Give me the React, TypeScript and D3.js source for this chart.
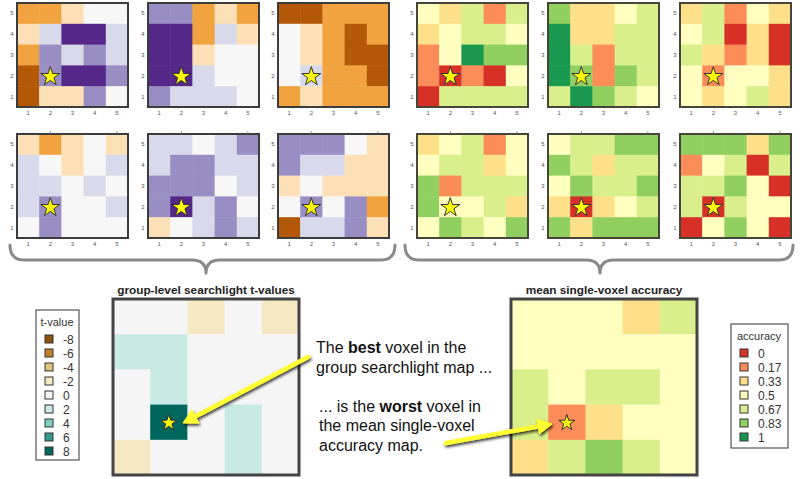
import React from 'react';
import * as d3 from 'd3';

const W = 800, H = 479;
const colsIdx = [1, 2, 3, 4, 5];
const rowsIdx = [5, 4, 3, 2, 1];
const tickLabels = ['1', '2', '3', '4', '5'];
const starCell = { col: 2, row: 2 };

// single-subject searchlight t-maps, rows listed from y=5 (top) down to y=1
const tSubj1 = [[-4, -4, -2, 0, 0], [-2, 2, 6, 6, 2], [-4, 4, 2, 4, 2], [-6, 4, 6, 6, 4], [-6, -2, -2, 4, 0]];
const tSubj2 = [[4, 4, -4, -2, -4], [6, 6, -4, 2, -2], [6, 6, -2, 0, 0], [6, 6, 2, 0, 0], [4, 2, 2, 2, 0]];
const tSubj3 = [[-6, -6, -4, -4, -4], [0, -2, -4, -6, -4], [0, -2, -4, -6, -6], [0, 2, -4, -4, -6], [-4, -2, -4, -4, -4]];
const tSubj4 = [[-2, -4, -2, 0, -2], [2, 0, -2, 0, 2], [2, 2, 0, 2, 0], [2, 4, 0, 0, 2], [0, 4, 0, 0, 0]];
const tSubj5 = [[2, 2, 0, 2, 4], [2, 4, 4, 2, 2], [4, 4, 4, 0, 2], [4, 6, 2, 4, 0], [-2, 0, 2, 4, 2]];
const tSubj6 = [[4, 4, 4, 0, -2], [4, 2, 2, -2, -2], [-2, 0, -2, -2, -2], [0, 4, 0, 4, -4], [-6, 2, 2, 4, -2]];

// single-subject single-voxel accuracy maps
const accSubj1 = [[0.5, 0.33, 0.67, 0.17, 0.67], [0.33, 0.5, 0.67, 0.67, 0.5], [0.17, 0.5, 1, 0.83, 0.83], [0.17, 0, 0.17, 0, 0.5], [0, 0.67, 0.67, 0.67, 0.67]];
const accSubj2 = [[0.83, 0.33, 0.33, 0.5, 0.67], [1, 0.33, 0.33, 0.67, 0.67], [1, 0.67, 0.17, 0.67, 0.67], [1, 0.83, 0.17, 0.83, 0.67], [0.67, 1, 0.83, 0.67, 0.5]];
const accSubj3 = [[0.33, 0.67, 0.17, 0.5, 0.33], [0.5, 0.67, 0, 0.33, 0], [0.67, 0.33, 0.17, 0.33, 0], [0.5, 0.17, 0.5, 0.5, 0.33], [0.5, 0.33, 0.5, 0.67, 0.33]];
const accSubj4 = [[0.33, 0.5, 0.67, 0.17, 0.5], [0.5, 0.67, 0.67, 0.33, 0.5], [0.83, 0.17, 0.67, 0.67, 0.67], [0.83, 0.5, 0.5, 0.67, 0.33], [0.5, 0.83, 0.67, 0.5, 0.83]];
const accSubj5 = [[0.5, 0.67, 0.67, 0.83, 0.83], [0.83, 0.67, 0.33, 0.67, 0.67], [0.5, 0.83, 0.67, 0.67, 0.83], [0.33, 0, 0.33, 0.5, 0.67], [0.83, 0.33, 0.83, 0.83, 0.83]];
const accSubj6 = [[0.83, 0.83, 0.83, 0.33, 0.83], [0.17, 0.5, 0.67, 0, 0.67], [0.67, 0.67, 0.83, 0.5, 0], [0.67, 0, 0.67, 0.5, 0.5], [0, 0.5, 0.83, 0.5, 0]];

// group-level maps
const groupT = [[0, 0, -2, 0, -2], [2, 2, 0, 0, 0], [0, 2, 0, 0, 0], [0, 8, 0, 2, 0], [-2, 0, 0, 2, 0]];
const meanAcc = [[0.5, 0.5, 0.5, 0.33, 0.67], [0.5, 0.5, 0.5, 0.5, 0.5], [0.67, 0.5, 0.67, 0.67, 0.5], [0.67, 0.17, 0.33, 0.5, 0.5], [0.33, 0.67, 0.83, 0.67, 0.5]];

// legends
const tLegendValues = [-8, -6, -4, -2, 0, 2, 4, 6, 8];
const tLegendLabels = ['-8', '-6', '-4', '-2', '0', '2', '4', '6', '8'];
const accLegendValues = [0, 0.17, 0.33, 0.5, 0.67, 0.83, 1];
const accLegendLabels = ['0', '0.17', '0.33', '0.5', '0.67', '0.83', '1'];
const subjTValues = [-6, -4, -2, 0, 2, 4, 6];

const titleLeft = 'group-level searchlight t-values';
const titleRight = 'mean single-voxel accuracy';

const tColor = d3.scaleOrdinal<number, string>().domain(tLegendValues)
  .range(['#8c510a', '#bf812d', '#dfc27d', '#f6e8c3', '#f5f5f5', '#c7eae5', '#80cdc1', '#35978f', '#01665e']);
const subjTColor = d3.scaleOrdinal<number, string>().domain(subjTValues)
  .range(['#b35806', '#f1a340', '#fee0b6', '#f7f7f7', '#d8daeb', '#998ec3', '#542788']);
const accColor = d3.scaleOrdinal<number, string>().domain(accLegendValues)
  .range(['#d73027', '#fc8d59', '#fee08b', '#ffffbf', '#d9ef8b', '#91cf60', '#1a9850']);

const FONT = '"Liberation Sans", Arial, sans-serif';

function starPath(r: number) {
  const ka = 0.8908130915292852;
  return d3.symbol().type(d3.symbolStar).size((r * r) / ka)() as string;
}

type MapProps = {
  x: number; y: number; w: number; h: number;
  grid: number[][]; color: (v: number) => string;
  small?: boolean; starR: number; frame: string; frameW: number; topTicks?: boolean;
};

function Heatmap({ x, y, w, h, grid, color, small, starR, frame, frameW, topTicks }: MapProps) {
  const xs = d3.scaleBand<number>().domain(colsIdx).range([x, x + w]);
  const ys = d3.scaleBand<number>().domain(rowsIdx).range([y, y + h]);
  const cells: React.ReactNode[] = [];
  rowsIdx.forEach((r, ri) => {
    colsIdx.forEach((c, ci) => {
      cells.push(
        <rect key={`${r}-${c}`} x={xs(c)!} y={ys(r)!} width={xs.bandwidth() + 0.5} height={ys.bandwidth() + 0.5}
          fill={color(grid[ri][ci])} />
      );
    });
  });
  const sx = xs(starCell.col)! + xs.bandwidth() / 2;
  const sy = ys(starCell.row)! + ys.bandwidth() / 2;
  return (
    <g>
      {cells}
      <rect x={x} y={y} width={w} height={h} fill="none" stroke={frame} strokeWidth={frameW} />
      <path d={starPath(starR)} transform={`translate(${sx},${sy + starR * 0.08})`} fill="#ffff00" stroke="#333" strokeWidth={1} />
      {small && colsIdx.map((c, i) => (
        <text key={'xt' + c} x={xs(c)! + xs.bandwidth() / 2} y={y + h + 8} fontSize={6} fill="#555" textAnchor="middle" fontFamily={FONT}>{tickLabels[i]}</text>
      ))}
      {small && rowsIdx.map((r) => (
        <text key={'yt' + r} x={x - 5} y={ys(r)! + ys.bandwidth() / 2 + 2} fontSize={6} fill="#555" textAnchor="middle" fontFamily={FONT}>{tickLabels[r - 1]}</text>
      ))}
      {topTicks && [2, 5].map((c) => (
        <line key={'tt' + c} x1={xs(c)! + xs.bandwidth() / 2} x2={xs(c)! + xs.bandwidth() / 2} y1={y - 3} y2={y} stroke="#777" strokeWidth={0.8} />
      ))}
    </g>
  );
}

function Brace({ x0, x1, xc, yTop, yMid, yTip }: { x0: number; x1: number; xc: number; yTop: number; yMid: number; yTip: number }) {
  const r = 14;
  const d = `M${x0},${yTop} Q${x0},${yMid} ${x0 + r},${yMid} L${xc - r},${yMid} Q${xc},${yMid} ${xc},${yTip} Q${xc},${yMid} ${xc + r},${yMid} L${x1 - r},${yMid} Q${x1},${yMid} ${x1},${yTop}`;
  return <path d={d} fill="none" stroke="#8a8a8a" strokeWidth={3} strokeLinecap="round" strokeLinejoin="round" />;
}

function Arrow({ x0, y0, x1, y1 }: { x0: number; y0: number; x1: number; y1: number }) {
  const ang = Math.atan2(y1 - y0, x1 - x0);
  const hl = 14, hw = 7.5;
  const bx = x1 - hl * Math.cos(ang), by = y1 - hl * Math.sin(ang);
  const px = -Math.sin(ang), py = Math.cos(ang);
  const head = `M${x1},${y1} L${bx + px * hw},${by + py * hw} L${bx - px * hw},${by - py * hw} Z`;
  return (
    <g filter="url(#shadow)">
      <line x1={x0} y1={y0} x2={bx} y2={by} stroke="#ffff30" strokeWidth={4.5} strokeLinecap="round" />
      <path d={head} fill="#ffff30" stroke="#ffff30" strokeWidth={1} strokeLinejoin="round" />
    </g>
  );
}

function Legend({ x, y, w, h, title, values, labels, color, titleX }: { x: number; y: number; w: number; h: number; title: string; values: number[]; labels: string[]; color: (v: number) => string; titleX: number }) {
  const ys = d3.scalePoint<number>().domain(values.map((_, i) => i)).range([y + 29, y + 29 + 14 * (values.length - 1)]);
  return (
    <g fontFamily={FONT}>
      <rect x={x} y={y} width={w} height={h} fill="#fff" stroke="#333" strokeWidth={1} />
      <text x={titleX} y={y + 16} fontSize={11} fill="#333" textAnchor="middle">{title}</text>
      {values.map((v, i) => (
        <g key={i}>
          <rect x={x + 9} y={ys(i)! - 4} width={8} height={8} fill={color(v)} stroke="#333" strokeWidth={1} />
          <text x={x + 27} y={ys(i)! + 4.5} fontSize={12} fill="#333">{labels[i]}</text>
        </g>
      ))}
    </g>
  );
}

export default function App() {
  const pw = 111, ph = 104;
  const leftX = [17, 148, 278];
  const rightX = [417, 548, 680];
  const rowY = [3, 134];
  const tSubj = [tSubj1, tSubj2, tSubj3, tSubj4, tSubj5, tSubj6];
  const accSubj = [accSubj1, accSubj2, accSubj3, accSubj4, accSubj5, accSubj6];

  return (
    <svg width={W} height={H} style={{ position: 'absolute', left: 0, top: 0, background: '#fff' }} fontFamily={FONT}>
      <defs>
        <filter id="shadow" x="-20%" y="-40%" width="140%" height="180%">
          <feGaussianBlur in="SourceAlpha" stdDeviation="1.6" />
          <feOffset dx="1" dy="2" result="b" />
          <feComponentTransfer><feFuncA type="linear" slope="0.8" /></feComponentTransfer>
          <feMerge><feMergeNode /><feMergeNode in="SourceGraphic" /></feMerge>
        </filter>
      </defs>
      <rect x={0} y={0} width={W} height={H} fill="#fff" />

      {tSubj.map((g, i) => (
        <Heatmap key={'t' + i} x={leftX[i % 3]} y={rowY[Math.floor(i / 3)]} w={pw} h={ph} grid={g}
          color={(v) => subjTColor(v)} small starR={10} frame="#3c3c3c" frameW={2} topTicks={i >= 3} />
      ))}
      {accSubj.map((g, i) => (
        <Heatmap key={'a' + i} x={rightX[i % 3]} y={rowY[Math.floor(i / 3)]} w={pw} h={ph} grid={g}
          color={(v) => accColor(v)} small starR={10} frame="#45453a" frameW={2} topTicks={i >= 3} />
      ))}

      <Brace x0={10} x1={395} xc={206} yTop={245} yMid={260} yTip={273} />
      <Brace x0={405} x1={793} xc={600} yTop={245} yMid={260} yTip={273} />

      <text x={206} y={294} fontSize={11.8} fontWeight="bold" textAnchor="middle" fill="#222">{titleLeft}</text>
      <text x={604} y={294} fontSize={11.8} fontWeight="bold" textAnchor="middle" fill="#222">{titleRight}</text>

      <Heatmap x={113} y={299} w={186} h={176} grid={groupT} color={(v) => tColor(v)} starR={8.5} frame="#444" frameW={3} />
      <Heatmap x={511} y={299} w={186} h={176} grid={meanAcc} color={(v) => accColor(v)} starR={8.5} frame="#444" frameW={3} />

      <Legend x={36} y={310} w={43} h={150} title="t-value" values={tLegendValues} labels={tLegendLabels} color={(v) => tColor(v)} titleX={57} />
      <Legend x={731} y={324} w={57} h={124} title="accuracy" values={accLegendValues} labels={accLegendLabels} color={(v) => accColor(v)} titleX={759} />

      <g fontSize={16} fill="#111" fontFamily={FONT}>
        <text x={316} y={353}>The <tspan fontWeight="bold">best</tspan> voxel in the</text>
        <text x={316} y={373}>group searchlight map ...</text>
        <text x={319} y={412}>... is the <tspan fontWeight="bold">worst</tspan> voxel in</text>
        <text x={319} y={431}>the mean single-voxel</text>
        <text x={319} y={451}>accuracy map.</text>
      </g>

      <Arrow x0={308} y0={357} x1={183} y1={423} />
      <Arrow x0={446} y0={443} x1={552} y1={424} />
    </svg>
  );
}
